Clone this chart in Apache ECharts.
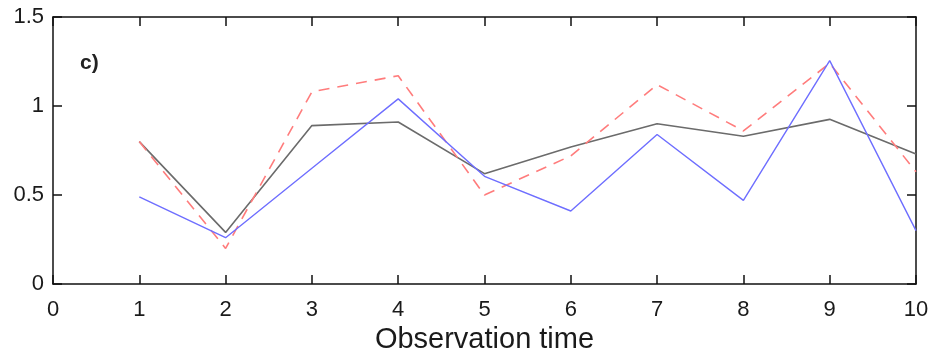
<!DOCTYPE html>
<html>
<head>
<meta charset="utf-8">
<script src="https://cdn.jsdelivr.net/npm/echarts@6/dist/echarts.min.js"></script>
<style>
html,body{margin:0;padding:0;background:#fff;}
#chart{width:929px;height:351px;}
</style>
</head>
<body>
<div id="chart"></div>
<script>
const times = [1, 2, 3, 4, 5, 6, 7, 8, 9, 10];
const blackSeries = [0.80, 0.29, 0.89, 0.91, 0.62, 0.77, 0.90, 0.83, 0.925, 0.73];
const redSeries   = [0.80, 0.20, 1.08, 1.17, 0.50, 0.72, 1.12, 0.86, 1.24, 0.63];
const blueSeries  = [0.49, 0.26, 0.65, 1.04, 0.605, 0.41, 0.84, 0.47, 1.255, 0.30];
const xTicks = [0, 1, 2, 3, 4, 5, 6, 7, 8, 9, 10];
const yTicks = [0, 0.5, 1, 1.5];

const pair = arr => times.map((t, i) => [t, arr[i]]);
const font = 'Liberation Sans, Arial, sans-serif';

const chart = echarts.init(document.getElementById('chart'));
chart.setOption({
  animation: false,
  backgroundColor: '#fff',
  grid: { left: 53, right: 13, top: 17, bottom: 67, containLabel: false, outerBoundsMode: 'none' },
  xAxis: [{
    type: 'value', min: 0, max: 10, interval: 1,
    axisLine: { show: true, onZero: false, lineStyle: { color: '#111', width: 1.5 } },
    axisTick: { show: true, inside: true, length: 9, lineStyle: { color: '#111', width: 1.5 } },
    axisLabel: { show: true, margin: 15, fontSize: 22, color: '#1a1a1a', fontFamily: font,
      formatter: v => xTicks.includes(v) ? String(v) : '' },
    splitLine: { show: false },
    name: 'Observation time', nameLocation: 'middle', nameGap: 39,
    nameTextStyle: { fontSize: 29, color: '#1a1a1a', fontFamily: font }
  }, {
    type: 'value', min: 0, max: 10, interval: 1, position: 'top',
    axisLine: { show: true, onZero: false, lineStyle: { color: '#111', width: 1.5 } },
    axisTick: { show: true, inside: true, length: 9, lineStyle: { color: '#111', width: 1.5 } },
    axisLabel: { show: false }, splitLine: { show: false }
  }],
  yAxis: [{
    type: 'value', min: 0, max: 1.5, interval: 0.5,
    axisLine: { show: true, onZero: false, lineStyle: { color: '#111', width: 1.5 } },
    axisTick: { show: true, inside: true, length: 9, lineStyle: { color: '#111', width: 1.5 } },
    axisLabel: { show: true, margin: 9, fontSize: 22, color: '#1a1a1a', fontFamily: font,
      formatter: v => yTicks.includes(v) ? String(v) : '' },
    splitLine: { show: false }
  }, {
    type: 'value', min: 0, max: 1.5, interval: 0.5, position: 'right',
    axisLine: { show: true, onZero: false, lineStyle: { color: '#111', width: 1.5 } },
    axisTick: { show: true, inside: true, length: 9, lineStyle: { color: '#111', width: 1.5 } },
    axisLabel: { show: false }, splitLine: { show: false }
  }],
  graphic: [{
    type: 'text', left: 80, top: 53,
    style: { text: 'c)', font: 'bold 21px ' + font, fill: '#222' }
  }],
  series: [{
    type: 'line', data: pair(blackSeries), showSymbol: false, symbol: 'none',
    lineStyle: { color: '#6b6b6b', width: 1.6 }, z: 2
  }, {
    type: 'line', data: pair(redSeries), showSymbol: false, symbol: 'none',
    lineStyle: { color: '#ff7c7c', width: 1.6, type: [11, 8] }, z: 3
  }, {
    type: 'line', data: pair(blueSeries), showSymbol: false, symbol: 'none',
    lineStyle: { color: '#6e6eff', width: 1.4 }, z: 4
  }]
});
</script>
</body>
</html>
